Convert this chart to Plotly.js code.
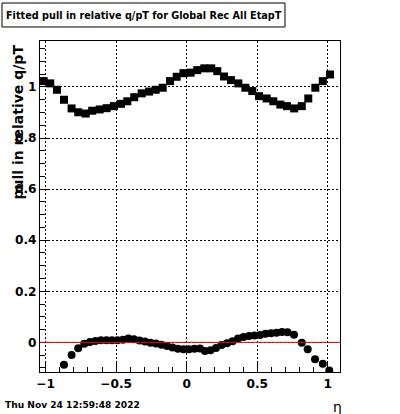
<!DOCTYPE html>
<html>
<head>
<meta charset="utf-8">
<script src="https://cdn.plot.ly/plotly-3.0.1.min.js"></script>
<style>html,body{margin:0;padding:0;background:#fff;}#chart{width:400px;height:414px;}</style>
</head>
<body>
<div id="chart"></div>
<script>
// Upper series: fitted width (squares)
const etaWidth = [-1.014,-0.967,-0.920,-0.870,-0.816,-0.769,-0.716,-0.670,-0.617,-0.567,-0.516,-0.466,-0.421,-0.372,-0.319,-0.267,-0.220,-0.170,-0.118,-0.071,-0.023,0.028,0.075,0.125,0.174,0.217,0.265,0.314,0.366,0.416,0.465,0.513,0.567,0.614,0.664,0.711,0.762,0.816,0.862,0.912,0.965,1.016];
const pullWidth = [1.023,1.014,0.989,0.950,0.916,0.901,0.896,0.907,0.912,0.917,0.925,0.934,0.944,0.960,0.975,0.982,0.989,0.997,1.023,1.040,1.054,1.056,1.066,1.073,1.073,1.062,1.041,1.027,1.014,0.997,0.984,0.964,0.955,0.944,0.931,0.925,0.916,0.925,0.955,0.997,1.023,1.049];
// Lower series: fitted mean (circles)
const etaMean = [-0.870,-0.816,-0.769,-0.726,-0.686,-0.647,-0.608,-0.569,-0.530,-0.491,-0.452,-0.413,-0.374,-0.335,-0.296,-0.257,-0.218,-0.179,-0.140,-0.101,-0.062,-0.023,0.016,0.055,0.094,0.130,0.169,0.208,0.247,0.286,0.325,0.364,0.403,0.442,0.481,0.520,0.559,0.598,0.637,0.676,0.715,0.761,0.816,0.858,0.910,0.965,1.011];
const pullMean = [-0.088,-0.049,-0.023,-0.005,0.001,0.005,0.008,0.008,0.008,0.008,0.010,0.015,0.012,0.007,0.003,-0.001,-0.004,-0.009,-0.014,-0.020,-0.025,-0.027,-0.027,-0.025,-0.024,-0.034,-0.031,-0.022,-0.010,-0.003,0.004,0.015,0.021,0.025,0.027,0.029,0.034,0.036,0.038,0.041,0.040,0.030,-0.001,-0.027,-0.066,-0.084,-0.110];

const titleText = "Fitted pull in relative q/pT for Global Rec All EtapT";
const yTitle = "pull in relative q/pT";
const xTitle = "η";
const dateText = "Thu Nov 24 12:59:48 2022";

const traces = [
  {x: etaWidth, y: pullWidth, type: 'scatter', mode: 'markers',
   marker: {symbol: 'square', size: 8, color: '#000'}, hoverinfo: 'skip'},
  {x: etaMean, y: pullMean, type: 'scatter', mode: 'markers',
   marker: {symbol: 'circle', size: 8, color: '#000'}, hoverinfo: 'skip'}
];

const tickFont = {family: 'DejaVu Sans', size: 12.2, color: '#000', weight: 'bold'};
const layout = {
  width: 400, height: 414,
  margin: {l: 40, r: 60, t: 41, b: 42, pad: 0},
  paper_bgcolor: '#fff', plot_bgcolor: '#fff',
  showlegend: false,
  xaxis: {
    range: [-1.040, 1.087], dtick: 0.5, tick0: 0,
    ticks: 'inside', ticklen: 9, tickcolor: '#000', tickwidth: 1,
    minor: {dtick: 0.1, ticks: 'inside', ticklen: 5, tickcolor: '#000', showgrid: false},
    showgrid: true, gridcolor: '#000', gridwidth: 1, griddash: '1.5px,2.5px',
    zeroline: false, showline: true, linecolor: '#000', linewidth: 1, mirror: true,
    tickfont: tickFont
  },
  yaxis: {
    range: [-0.116, 1.180], dtick: 0.2, tick0: 0,
    ticks: 'inside', ticklen: 9, tickcolor: '#000', tickwidth: 1,
    minor: {dtick: 0.05, ticks: 'inside', ticklen: 5, tickcolor: '#000', showgrid: false},
    showgrid: true, gridcolor: '#000', gridwidth: 1, griddash: '1.5px,2.5px',
    zeroline: false, showline: true, linecolor: '#000', linewidth: 1, mirror: true,
    tickfont: tickFont
  },
  shapes: [
    {type: 'line', xref: 'paper', yref: 'y', x0: 0, x1: 1, y0: 0, y1: 0,
     line: {color: '#ff0000', width: 1}, layer: 'above'},
    {type: 'rect', xref: 'paper', yref: 'paper', x0: -0.1267, x1: 0.8167, y0: 1.0423, y1: 1.1148,
     line: {color: '#000', width: 1}, fillcolor: '#fff'}
  ],
  annotations: [
    {text: titleText, xref: 'paper', yref: 'paper', x: 0.345, y: 1.0785,
     xanchor: 'center', yanchor: 'middle', showarrow: false,
     font: {family: 'DejaVu Sans', size: 9.7, color: '#000', weight: 'bold'}},
    {text: yTitle, xref: 'paper', yref: 'paper', x: -0.0733, y: 0.994,
     xanchor: 'center', yanchor: 'top', textangle: -90, showarrow: false,
     font: {family: 'DejaVu Sans', size: 14, color: '#000', weight: 'bold'}},
    {text: xTitle, xref: 'paper', yref: 'paper', x: 0.99, y: -0.1057,
     xanchor: 'center', yanchor: 'middle', showarrow: false,
     font: {family: 'DejaVu Sans', size: 14, color: '#000'}},
    {text: dateText, xref: 'paper', yref: 'paper', x: -0.1233, y: -0.0997,
     xanchor: 'left', yanchor: 'middle', showarrow: false,
     font: {family: 'DejaVu Sans', size: 9.1, color: '#000', weight: 'bold'}}
  ]
};

Plotly.newPlot('chart', traces, layout, {staticPlot: true, displayModeBar: false});
</script>
</body>
</html>
